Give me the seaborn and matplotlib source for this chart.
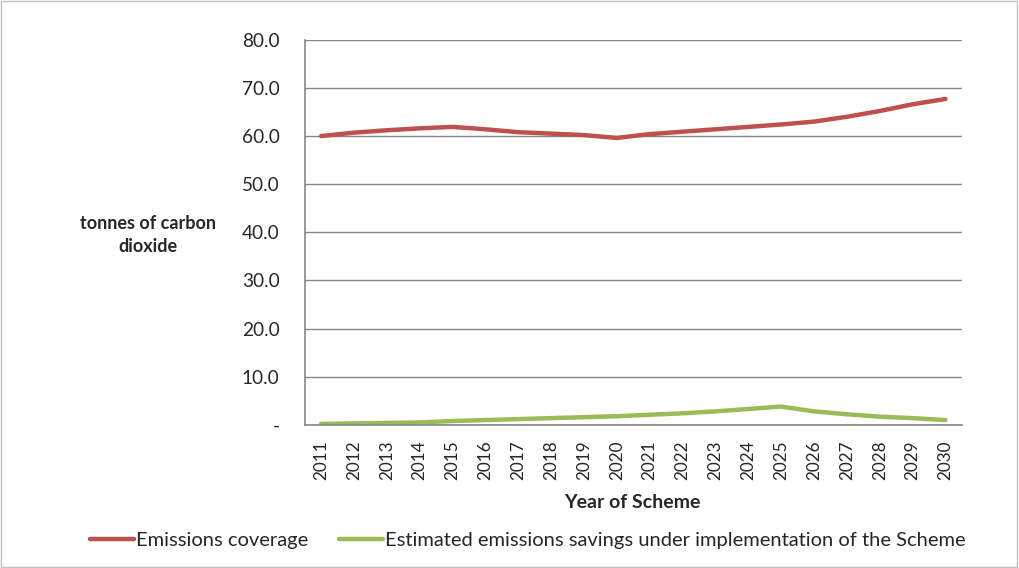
import pandas as pd
import numpy as np
import seaborn as sns
import matplotlib.pyplot as plt
from matplotlib.patches import Rectangle

# values
years = [str(y) for y in range(2011, 2031)]
emissions_coverage = [60.0, 60.7, 61.2, 61.6, 61.9, 61.4, 60.8, 60.5, 60.2, 59.6,
                      60.4, 60.9, 61.4, 61.9, 62.4, 63.0, 64.0, 65.2, 66.6, 67.7]
emissions_savings = [0.2, 0.3, 0.4, 0.5, 0.8, 1.0, 1.2, 1.4, 1.6, 1.8,
                     2.1, 2.4, 2.8, 3.3, 3.8, 2.8, 2.2, 1.7, 1.4, 1.0]
series_names = ["Emissions coverage",
                "Estimated emissions savings under implementation of the Scheme"]
y_ticks = [0, 10, 20, 30, 40, 50, 60, 70, 80]

df = pd.DataFrame({
    "pos": list(range(len(years))) * 2,
    "value": emissions_coverage + emissions_savings,
    "series": [series_names[0]] * len(years) + [series_names[1]] * len(years),
})

sns.set_style("white")
plt.rcParams["font.family"] = ["Lato", "DejaVu Sans"]

fig = plt.figure(figsize=(10.19, 5.68), dpi=100)
ax = fig.add_axes([0.299, 0.252, 0.645, 0.678])

sns.lineplot(data=df, x="pos", y="value", hue="series",
             palette=["#C0504D", "#9BBB59"], linewidth=3.2, ax=ax, legend=False)

ax.set_xlim(-0.5, len(years) - 0.5)
ax.set_ylim(0, 80)
ax.set_yticks(y_ticks)
ax.set_yticklabels(["-"] + [f"{v:.1f}" for v in y_ticks[1:]], fontsize=13.7)
ax.set_xticks(range(len(years)))
ax.set_xticklabels(years, rotation=90, fontsize=12.3)
ax.set_xticks(np.arange(-0.5, len(years)), minor=True)
ax.tick_params(axis="x", which="major", length=0, pad=11)
ax.tick_params(axis="x", which="minor", length=6, color="#868686", direction="out")
ax.tick_params(axis="y", length=6, color="#868686", direction="out", pad=12)
ax.grid(axis="y", color="#868686", linewidth=1)
ax.set_axisbelow(True)
for side in ["top", "right"]:
    ax.spines[side].set_visible(False)
for side in ["left", "bottom"]:
    ax.spines[side].set_color("#868686")
    ax.spines[side].set_linewidth(1.2)
ax.set_xlabel("")
ax.set_ylabel("")

fig.text(0.145, 0.586, "tonnes of carbon\ndioxide", ha="center", va="center",
         fontweight="bold", fontsize=13, linespacing=1.45)
fig.text(0.621, 0.115, "Year of Scheme", ha="center", va="center",
         fontweight="bold", fontsize=14)

handles = [plt.Line2D([], [], color=c, linewidth=3.2) for c in ["#C0504D", "#9BBB59"]]
fig.legend(handles, series_names, loc="center", bbox_to_anchor=(0.518, 0.049),
           ncol=2, frameon=False, handlelength=2.2, handletextpad=0.1,
           columnspacing=1.5, fontsize=14.5)

fig.patches.append(Rectangle((0.001, 0.002), 0.997, 0.996, transform=fig.transFigure,
                             fill=False, edgecolor="#BFBFBF", linewidth=1))

fig.savefig("out.png", dpi=100)
